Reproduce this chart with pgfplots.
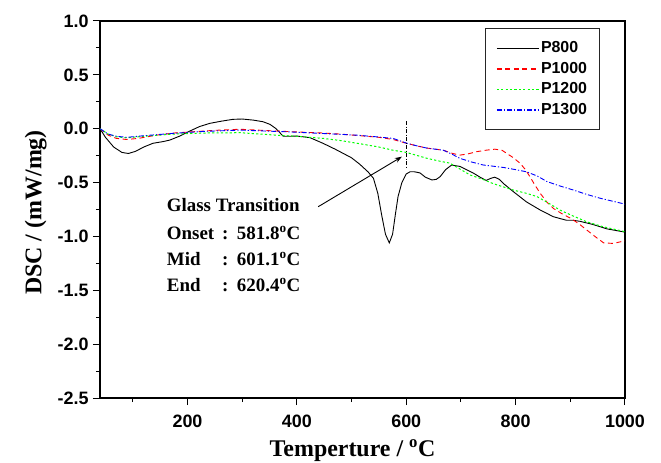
\documentclass[border=0pt]{standalone}
\usepackage{fontspec}
\setmainfont{Liberation Serif}
\setsansfont{Liberation Sans}
\usepackage{pgfplots}
\pgfplotsset{compat=1.18}
\usetikzlibrary{arrows.meta}
\begin{document}
\begin{tikzpicture}
\path[use as bounding box] (-100bp,-65bp) rectangle (561bp,398bp);
\begin{axis}[
  scale only axis, width=525bp, height=377bp,
  at={(0,0)}, anchor=south west,
  xmin=40, xmax=1000, ymin=-2.5, ymax=1.0,
  xtick={200,400,600,800,1000}, xticklabels={200,400,600,800,1000},
  minor xtick={100,300,500,700,900},
  ytick={-2.5,-2,-1.5,-1,-0.5,0,0.5,1},
  yticklabels={-2.5,-2.0,-1.5,-1.0,-0.5,0.0,0.5,1.0},
  minor ytick={-2.25,-1.75,-1.25,-0.75,-0.25,0.25,0.75},
  tick align=outside, xtick pos=bottom, ytick pos=left,
  major tick length=7bp, minor tick length=4bp,
  axis line style={line width=1.1bp},
  every tick/.style={line width=1bp, black},
  ticklabel style={font=\fontsize{18}{18}\selectfont\sffamily\bfseries},
  xticklabel style={yshift=-6bp},
  yticklabel style={xshift=-1bp},
  xlabel={Temperture / \textsuperscript{o}C},
  ylabel={DSC / (mW/mg)},
  label style={font=\fontsize{24}{24}\selectfont\bfseries},
  xlabel style={yshift=-6bp, xshift=-10bp},
  ylabel style={yshift=4bp, xshift=-3bp},
  legend style={at={(1,1)}, anchor=north east, xshift=-25bp, yshift=-7bp,
    draw=black!85, line width=0.8bp, inner xsep=11bp, inner ysep=11bp,
    font=\fontsize{16}{16}\selectfont\sffamily\bfseries,
    nodes={inner sep=1.5bp, text height=12bp, text depth=3bp},
    row sep=2.5bp},
  legend cell align=left,
  legend image code/.code={\draw[#1, line width=1.5bp] (0bp,0bp) -- (42bp,0bp);},
]
\addplot[draw=black, line width=0.9bp] coordinates {
(40,0) (50,-0.08) (65,-0.17) (80,-0.22) (92,-0.23) (105,-0.21) (120,-0.17) (137,-0.135) (155,-0.12) (168,-0.105) (185,-0.07) (205,-0.02) (222,0.02) (241,0.05) (262,0.07) (283,0.087) (300,0.09) (320,0.08) (338,0.065) (351,0.04) (362,0.0) (375,-0.07) (390,-0.07) (400,-0.068) (424,-0.083) (448,-0.136) (470,-0.19) (485,-0.23) (500,-0.27) (515,-0.33) (530,-0.40) (540,-0.46) (548,-0.6) (555,-0.8) (562,-0.98) (569,-1.06) (575,-0.98) (580,-0.8) (585,-0.63) (592,-0.5) (600,-0.42) (607,-0.40) (615,-0.40) (625,-0.41) (635,-0.45) (647,-0.476) (655,-0.47) (662,-0.445) (672,-0.38) (683,-0.337) (698,-0.35) (722,-0.41) (735,-0.45) (746,-0.48) (755,-0.46) (762,-0.45) (770,-0.47) (778,-0.51) (796,-0.585) (820,-0.68) (845,-0.755) (869,-0.817) (893,-0.85) (905,-0.85) (918,-0.86) (942,-0.89) (967,-0.93) (1000,-0.96)
};
\addlegendentry{P800}
\addplot[draw=red, line width=0.9bp, dash pattern=on 5bp off 3.5bp] coordinates {
(40,0) (55,-0.06) (70,-0.09) (89,-0.10) (110,-0.09) (143,-0.06) (175,-0.04) (205,-0.03) (250,-0.015) (296,-0.005) (356,-0.02) (400,-0.03) (448,-0.04) (480,-0.05) (516,-0.065) (550,-0.08) (576,-0.10) (601,-0.136) (620,-0.16) (638,-0.18) (668,-0.20) (685,-0.23) (698,-0.245) (712,-0.235) (729,-0.213) (745,-0.20) (762,-0.19) (775,-0.20) (784,-0.23) (796,-0.27) (808,-0.32) (818,-0.38) (826,-0.445) (835,-0.52) (845,-0.6) (857,-0.68) (869,-0.74) (885,-0.79) (900,-0.83) (915,-0.88) (930,-0.94) (945,-1.0) (961,-1.06) (979,-1.065) (1000,-1.04)
};
\addlegendentry{P1000}
\addplot[draw=green, line width=1bp, dash pattern=on 2.2bp off 2.2bp] coordinates {
(40,0) (55,-0.05) (70,-0.075) (89,-0.085) (120,-0.07) (174,-0.05) (230,-0.04) (296,-0.037) (363,-0.06) (400,-0.07) (448,-0.09) (480,-0.11) (516,-0.14) (550,-0.17) (576,-0.20) (600,-0.22) (638,-0.275) (660,-0.30) (680,-0.32) (700,-0.38) (717,-0.43) (740,-0.47) (759,-0.51) (796,-0.57) (820,-0.60) (839,-0.63) (860,-0.69) (881,-0.755) (905,-0.81) (930,-0.864) (960,-0.91) (1000,-0.956)
};
\addlegendentry{P1200}
\addplot[draw=blue, line width=0.9bp, dash pattern=on 5bp off 2bp on 1.2bp off 2bp] coordinates {
(40,0) (55,-0.05) (70,-0.07) (89,-0.08) (120,-0.065) (174,-0.043) (230,-0.025) (296,-0.013) (388,-0.03) (450,-0.045) (510,-0.06) (545,-0.075) (576,-0.09) (601,-0.135) (620,-0.16) (638,-0.18) (668,-0.20) (685,-0.24) (698,-0.275) (720,-0.31) (741,-0.337) (778,-0.36) (800,-0.38) (820,-0.40) (840,-0.44) (857,-0.49) (880,-0.53) (906,-0.57) (930,-0.61) (955,-0.646) (1000,-0.70)
};
\addlegendentry{P1300}
\draw[black, line width=0.8bp, dash pattern=on 4bp off 1.5bp on 1bp off 1.5bp] (axis cs:600,0.07) -- (axis cs:600,-0.37);
\draw[black, line width=0.9bp, -{Stealth[length=7bp,width=5bp]}] (axis cs:439,-0.724) -- (axis cs:592,-0.26);
\begin{scope}[every node/.style={anchor=base west, inner sep=0pt, font=\fontsize{19}{19}\selectfont\bfseries}]
\node at (axis cs:162,-0.773) {Glass Transition};
\node at (axis cs:162,-1.024) {Onset};
\node at (axis cs:162,-1.266) {Mid};
\node at (axis cs:162,-1.507) {End};
\node at (axis cs:263,-1.024) {:};
\node at (axis cs:263,-1.266) {:};
\node at (axis cs:263,-1.507) {:};
\node at (axis cs:290,-1.024) {581.8\textsuperscript{o}C};
\node at (axis cs:290,-1.266) {601.1\textsuperscript{o}C};
\node at (axis cs:290,-1.507) {620.4\textsuperscript{o}C};
\end{scope}
\end{axis}
\end{tikzpicture}
\end{document}
